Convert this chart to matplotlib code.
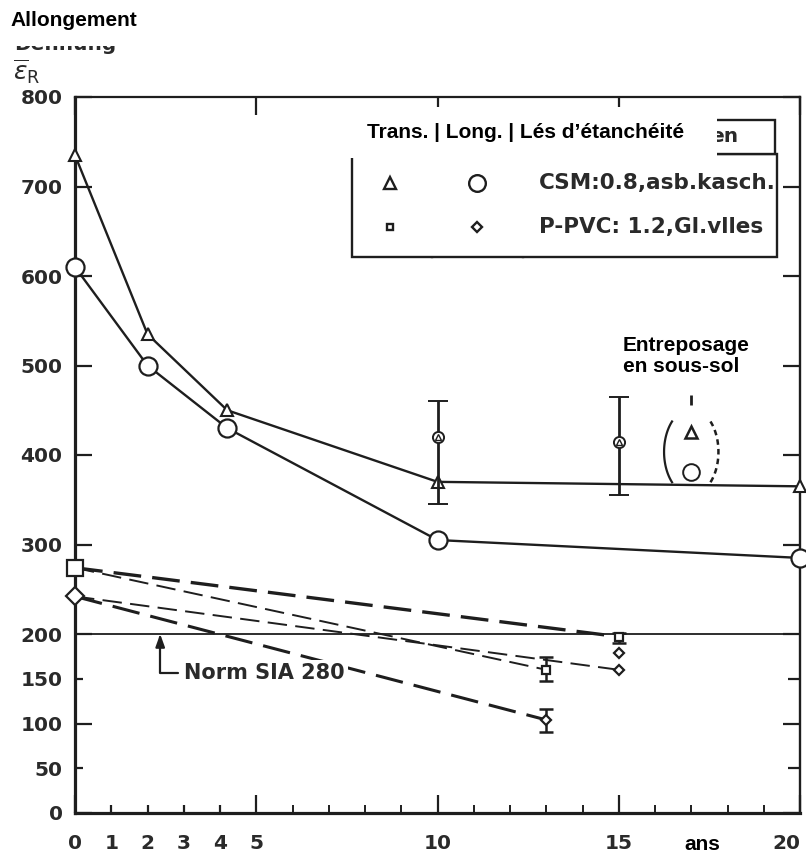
import matplotlib
matplotlib.use("Agg")
import numpy as np
import matplotlib.pyplot as plt
from matplotlib.patches import Rectangle
from matplotlib.lines import Line2D
from matplotlib.transforms import Affine2D

plt.rcParams["lines.scale_dashes"] = False

# ---- data ---------------------------------------------------------------
# CSM 0.8, asbestos-laminated: elongation at break vs. age (years)
csm_years = [0, 2, 4.2, 10, 20]
csm_trans = [735, 535, 450, 370, 365]
csm_long = [610, 500, 430, 305, 285]

# scattered CSM samples with spread
spread_years = [10, 15]
spread_vals = [420, 415]
spread_low = [345, 355]
spread_high = [460, 465]

# basement storage samples (17 years)
cellar_year = 17
cellar_trans = 426
cellar_long = 381
cellar_top = 461

# P-PVC 1.2, glass fleece: start values and end points of the dashed trends
pvc_start_trans = 274
pvc_start_long = 242
pvc_trans_a_years = [0, 15]
pvc_trans_a = [274, 197]
pvc_trans_b_years = [0, 13]
pvc_trans_b = [274, 160]
pvc_long_a_years = [0, 15]
pvc_long_a = [242, 160]
pvc_long_b_years = [0, 13]
pvc_long_b = [242, 104]
pvc_extra_year = 15
pvc_extra_long = 179

# end-point spreads of the PVC trends
pvc_err_years = [13, 13, 15]
pvc_err_vals = [160, 104, 197]
pvc_err_low = [147, 90, 190]
pvc_err_high = [174, 116, 201]

norm_sia = 200

x_ticks = [0, 1, 2, 3, 4, 5, 10, 15, 20]
x_minor = [6, 7, 8, 9, 11, 12, 13, 14, 16, 17, 18, 19]
y_ticks = [0, 50, 100, 150, 200, 300, 400, 500, 600, 700, 800]

# ---- figure -------------------------------------------------------------
W, H = 806, 856
fig = plt.figure(figsize=(W / 100, H / 100), dpi=100)
fig.patch.set_facecolor("white")
px = Affine2D().scale(1 / W, -1 / H).translate(0, 1) + fig.transFigure

ax = fig.add_axes([75 / W, 1 - 813 / H, 725 / W, 716 / H])
ink = "#1e1e1e"
txt = "#2a2a2a"
scan_font = dict(family="DejaVu Sans", weight="bold", color=txt)
over_font = dict(family="Liberation Sans", weight="bold", color="black")

ax.set_xlim(0, 20)
ax.set_ylim(0, 800)

for side, lw in (("left", 2.3), ("bottom", 2.3), ("top", 1.6), ("right", 1.7)):
    ax.spines[side].set_linewidth(lw)
    ax.spines[side].set_color(ink)

ax.set_xticks(x_ticks)
ax.set_xticklabels([str(v) for v in x_ticks], fontsize=14.5, **scan_font)
ax.set_xticks(x_minor, minor=True)
ax.set_yticks(y_ticks)
ax.set_yticklabels([str(v) for v in y_ticks], fontsize=14.5, **scan_font)

ax.tick_params(axis="x", which="major", direction="in", top=True, length=13,
               width=1.6, color=ink, pad=15)
ax.tick_params(axis="x", which="minor", direction="in", top=False, length=6,
               width=1.4, color=ink)
ax.tick_params(axis="y", which="major", direction="in", right=True, length=12,
               width=1.6, color=ink, pad=9)

for t, v in zip(ax.xaxis.get_major_ticks(), x_ticks):
    if v in (1, 2, 3, 4):
        t.tick1line.set_markersize(6)
        t.tick2line.set_visible(False)
for t, v in zip(ax.yaxis.get_major_ticks(), y_ticks):
    if v % 100:
        t.tick1line.set_markersize(6)
        t.tick2line.set_markersize(9)
ax.get_xticklabels()[-1].set_horizontalalignment("right")

# ---- CSM curves ---------------------------------------------------------
ax.plot(csm_years, csm_trans, color=ink, lw=1.7, marker="^", ms=9, mfc="white",
        mec=ink, mew=1.5, clip_on=False, zorder=4)
ax.plot(csm_years, csm_long, color=ink, lw=1.7, marker="o", ms=13, mfc="white",
        mec=ink, mew=1.6, clip_on=False, zorder=4)

ax.errorbar(spread_years, spread_vals,
            yerr=[[v - lo for v, lo in zip(spread_vals, spread_low)],
                  [hi - v for v, hi in zip(spread_vals, spread_high)]],
            fmt="o", ms=8, mfc="white", mec=ink, mew=1.4, ecolor=ink,
            elinewidth=2, capsize=7, capthick=2, zorder=5)
ax.plot(spread_years, spread_vals, ls="none", marker="^", ms=4, mfc="none",
        mec=ink, mew=1, zorder=6)

# basement storage, bracketed
ax.plot([cellar_year], [cellar_trans], ls="none", marker="^", ms=8, mfc="white",
        mec=ink, mew=1.8, zorder=5)
ax.plot([cellar_year], [cellar_long], ls="none", marker="o", ms=12, mfc="white",
        mec=ink, mew=1.4, zorder=5)
ax.plot([cellar_year], [cellar_top], ls="none", marker="|", ms=7, mec=ink,
        mew=2, zorder=5)
mid = (cellar_trans + cellar_long) / 2
t_left = np.deg2rad(np.linspace(135, 225, 40))
t_right = np.deg2rad(np.linspace(-45, 45, 40))
ax.plot(cellar_year + 0.75 * np.cos(t_left), mid + 48 * np.sin(t_left),
        color=ink, lw=1.6, zorder=5)
ax.plot(cellar_year + 0.75 * np.cos(t_right), mid + 48 * np.sin(t_right),
        color=ink, lw=1.8, dashes=(4, 3), zorder=5)

# ---- P-PVC trends -------------------------------------------------------
ax.axhline(norm_sia, color=ink, lw=1.3, zorder=3)
ax.plot(pvc_trans_a_years, pvc_trans_a, color=ink, lw=2.4, dashes=(20, 8), zorder=3)
ax.plot(pvc_trans_b_years, pvc_trans_b, color=ink, lw=1.4, dashes=(14, 6), zorder=3)
ax.plot(pvc_long_a_years, pvc_long_a, color=ink, lw=1.4, dashes=(14, 6), zorder=3)
ax.plot(pvc_long_b_years, pvc_long_b, color=ink, lw=2.2, dashes=(20, 8), zorder=3)

ax.plot([0], [pvc_start_trans], ls="none", marker="s", ms=12, mfc="white",
        mec=ink, mew=1.6, clip_on=False, zorder=6)
ax.plot([0], [pvc_start_long], ls="none", marker="D", ms=9, mfc="white",
        mec=ink, mew=1.6, clip_on=False, zorder=6)

ax.errorbar(pvc_err_years, pvc_err_vals,
            yerr=[[v - lo for v, lo in zip(pvc_err_vals, pvc_err_low)],
                  [hi - v for v, hi in zip(pvc_err_vals, pvc_err_high)]],
            fmt="none", ecolor=ink, elinewidth=1.8, capsize=5, capthick=1.8,
            zorder=5)
ax.plot([pvc_trans_b_years[-1], pvc_trans_a_years[-1]],
        [pvc_trans_b[-1], pvc_trans_a[-1]], ls="none", marker="s", ms=6,
        mfc="white", mec=ink, mew=1.6, zorder=6)
ax.plot([pvc_long_b_years[-1], pvc_long_a_years[-1], pvc_extra_year],
        [pvc_long_b[-1], pvc_long_a[-1], pvc_extra_long], ls="none", marker="D",
        ms=5, mfc="white", mec=ink, mew=1.6, zorder=6)

ax.annotate("Norm SIA 280", xy=(2.35, norm_sia), xytext=(3.0, 156),
            ha="left", va="center", fontsize=15, zorder=7,
            bbox=dict(boxstyle="square,pad=0.15", fc="white", ec="none"),
            arrowprops=dict(arrowstyle="-|>,head_length=0.5,head_width=0.18",
                            connectionstyle="angle,angleA=0,angleB=90,rad=0",
                            color=ink, lw=1.6, shrinkA=2, shrinkB=0),
            **scan_font)

# ---- legend table -------------------------------------------------------
def box(x0, y0, x1, y1, **kw):
    fig.add_artist(Rectangle((x0, y0), x1 - x0, y1 - y0, transform=px, **kw))

def seg(xs, ys, lw=1.7):
    fig.add_artist(Line2D(xs, ys, transform=px, color=ink, lw=lw))

box(352, 154, 777, 257, fc="white", ec=ink, lw=1.7, zorder=10)
box(352, 120, 775, 154, fc="white", ec=ink, lw=1.7, zorder=10)
seg([432, 432], [154, 257])
seg([523, 523], [154, 257])
for mk, xx, yy, ms in (("^", 390, 183, 8), ("o", 477, 183, 12),
                       ("s", 390, 227, 5), ("D", 477, 227, 5)):
    fig.add_artist(Line2D([xx], [yy], transform=px, ls="none", marker=mk, ms=ms,
                          mfc="white", mec=ink, mew=1.7, zorder=11))
fig.text(539, 183, "CSM:0.8,asb.kasch.", transform=px, fontsize=15.5,
         va="center", ha="left", zorder=11, **scan_font)
fig.text(539, 227, "P-PVC: 1.2,Gl.vlles", transform=px, fontsize=15.5,
         va="center", ha="left", zorder=11, **scan_font)
fig.text(738, 137, "en", transform=px, fontsize=14.5,
         va="center", ha="right", zorder=11, **scan_font)
box(342, 107, 717, 158, fc="white", ec="none", zorder=12)
fig.text(367, 132, "Trans. | Long. | Lés d’étanchéité", transform=px,
         fontsize=15, va="center", ha="left", zorder=13, **over_font)

# ---- axis titles --------------------------------------------------------
fig.text(14, 50, "Dehnung", transform=px, fontsize=14.5, va="baseline",
         ha="left", zorder=11, **scan_font)
box(0, 0, 200, 46, fc="white", ec="none", zorder=12)
fig.text(10, 20, "Allongement", transform=px, fontsize=15, va="center",
         ha="left", zorder=13, **over_font)
fig.text(13, 72, r"$\overline{\varepsilon}_{\mathsf{R}}$", transform=px,
         fontsize=18, va="center", ha="left", color=txt)

fig.text(623, 356, "Entreposage\nen sous-sol", transform=px, fontsize=15,
         va="center", ha="left", linespacing=1.15, zorder=13, **over_font)
fig.text(702, 845, "ans", transform=px, fontsize=15, va="center",
         ha="center", zorder=13, **over_font)

fig.savefig("out.png", dpi=100)
